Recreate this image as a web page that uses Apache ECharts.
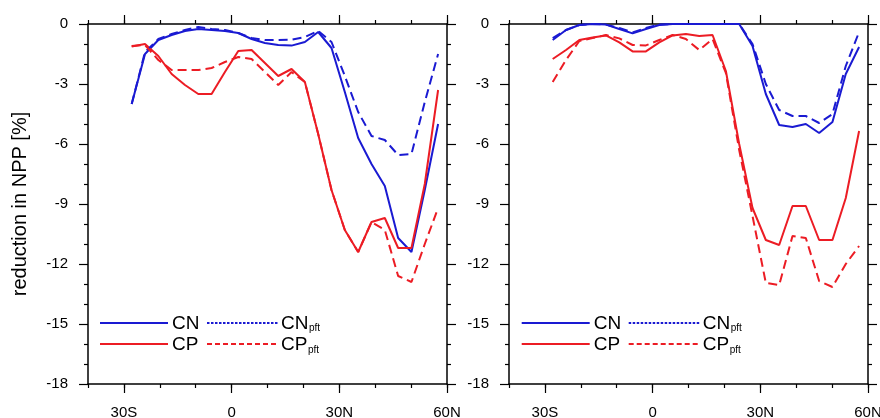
<!DOCTYPE html>
<html>
<head>
<meta charset="utf-8">
<script src="https://cdn.jsdelivr.net/npm/echarts@6/dist/echarts.min.js"></script>
<style>
  html, body { margin: 0; padding: 0; background: #fff; }
  #chart { width: 880px; height: 418px; }
</style>
</head>
<body>
<div id="chart"></div>
<script>
// Zonal-mean reduction in NPP (%) by latitude, two experiments side by side
const lat = [-27.83, -24.12, -20.41, -16.70, -12.99, -9.28, -5.57, -1.86,
             1.86, 5.57, 9.28, 12.99, 16.70, 20.41, 24.12, 27.83,
             31.54, 35.26, 38.97, 42.68, 46.39, 50.10, 53.81, 57.52];

// Left panel
const leftCN    = [-4.0, -1.5, -0.8, -0.55, -0.35, -0.25, -0.3, -0.35, -0.45, -0.75, -0.95, -1.05,
                   -1.08, -0.9, -0.4, -1.2, -3.4, -5.7, -7.0, -8.1, -10.7, -11.4, -8.3, -5.0];
const leftCNpft = [-4.0, -1.4, -0.75, -0.5, -0.3, -0.15, -0.25, -0.3, -0.45, -0.7, -0.8, -0.8,
                   -0.78, -0.65, -0.35, -0.9, -2.6, -4.4, -5.6, -5.8, -6.55, -6.5, -3.9, -1.5];
const leftCP    = [-1.13, -1.0, -1.6, -2.5, -3.05, -3.5, -3.5, -2.4, -1.35, -1.3, -1.95, -2.6,
                   -2.25, -2.9, -5.5, -8.3, -10.3, -11.4, -9.9, -9.7, -11.2, -11.2, -8.0, -3.3];
const leftCPpft = [-1.1, -1.05, -1.8, -2.3, -2.3, -2.3, -2.2, -1.9, -1.65, -1.75, -2.4, -3.05,
                   -2.4, -2.9, -5.5, -8.3, -10.3, -11.4, -9.9, -10.3, -12.6, -12.9, -11.0, -9.2];

// Right panel
const rightCN    = [-0.8, -0.3, -0.05, 0, -0.03, -0.25, -0.47, -0.25, -0.05, 0, 0, 0,
                    0, 0, 0, -1.1, -3.5, -5.05, -5.15, -5.0, -5.45, -4.9, -2.5, -1.15];
const rightCNpft = [-0.7, -0.3, -0.05, 0, -0.03, -0.2, -0.42, -0.2, -0.03, 0, 0, 0,
                    0, 0, 0, -1.0, -3.0, -4.3, -4.6, -4.6, -4.95, -4.5, -2.1, -0.4];
const rightCP    = [-1.75, -1.3, -0.8, -0.68, -0.57, -0.92, -1.37, -1.37, -0.92, -0.57, -0.5, -0.6,
                    -0.55, -2.35, -6.0, -9.2, -10.8, -11.05, -9.1, -9.1, -10.8, -10.8, -8.7, -5.35];
const rightCPpft = [-2.9, -1.8, -0.85, -0.7, -0.55, -0.72, -1.05, -1.07, -0.8, -0.55, -0.75, -1.3,
                    -0.75, -2.45, -6.3, -9.6, -12.95, -13.05, -10.6, -10.7, -12.85, -13.15, -12.0, -11.1];

// Axis tick labels
const lonTicks  = [-30, 0, 30, 60];
const lonLabels = ['30S', '0', '30N', '60N'];

const BLUE = '#1a1ad2';
const RED = '#ec1c24';
const FONT = 'Liberation Sans, Arial, Helvetica, sans-serif';

const chart = echarts.init(document.getElementById('chart'));

const lonFmt = v => {
  const i = lonTicks.indexOf(v);
  return i >= 0 ? lonLabels[i] : '';
};

const axisLineStyle = { color: '#000', width: 1.5 };
const tickLineStyle = { color: '#000', width: 1.2 };

function xAxesFor(g) {
  const base = { gridIndex: g, type: 'value', min: -40, max: 60, interval: 10,
                 splitLine: { show: false } };
  return [
    Object.assign({}, base, {
      position: 'bottom',
      axisLine: { show: true, onZero: false, lineStyle: axisLineStyle },
      axisTick: { show: true, length: 4, lineStyle: tickLineStyle },
      axisLabel: { show: true, customValues: lonTicks, formatter: lonFmt, margin: 21,
                   fontSize: 15, color: '#000', fontFamily: FONT }
    }),
    Object.assign({}, base, {
      position: 'bottom',
      axisLine: { show: false, onZero: false },
      axisTick: { show: true, customValues: lonTicks, length: 9, lineStyle: tickLineStyle },
      axisLabel: { show: false }
    }),
    Object.assign({}, base, {
      position: 'top',
      axisLine: { show: true, onZero: false, lineStyle: axisLineStyle },
      axisTick: { show: true, length: 4, lineStyle: tickLineStyle },
      axisLabel: { show: false }
    }),
    Object.assign({}, base, {
      position: 'top',
      axisLine: { show: false, onZero: false },
      axisTick: { show: true, customValues: lonTicks, length: 9, lineStyle: tickLineStyle },
      axisLabel: { show: false }
    })
  ];
}

function yAxesFor(g, withName) {
  const base = { gridIndex: g, type: 'value', min: -18, max: 0, interval: 3,
                 splitLine: { show: false },
                 axisLine: { show: true, onZero: false, lineStyle: axisLineStyle },
                 axisTick: { show: true, length: 9, lineStyle: tickLineStyle },
                 minorTick: { show: true, splitNumber: 3, length: 4, lineStyle: tickLineStyle } };
  const left = Object.assign({}, base, {
    position: 'left',
    axisLabel: { show: true, margin: 20, fontSize: 15, color: '#000', fontFamily: FONT }
  });
  if (withName) {
    Object.assign(left, {
      name: 'reduction in NPP [%]',
      nameLocation: 'middle',
      nameRotate: 90,
      nameGap: 58,
      nameTextStyle: { fontSize: 20, color: '#000', fontFamily: FONT }
    });
  }
  const right = Object.assign({}, base, { position: 'right', axisLabel: { show: false } });
  return [left, right];
}

const pts = arr => lat.map((x, i) => [x, arr[i]]);

function seriesFor(g, cn, cnPft, cp, cpPft) {
  const common = { type: 'line', xAxisIndex: g * 4, yAxisIndex: g * 2, showSymbol: false,
                   symbol: 'none', animation: false, silent: true, clip: false };
  return [
    Object.assign({}, common, { name: 'CN', data: pts(cn),
      lineStyle: { color: BLUE, width: 2 } }),
    Object.assign({}, common, { name: 'CP', data: pts(cp),
      lineStyle: { color: RED, width: 2 } }),
    Object.assign({}, common, { name: 'CNpft', data: pts(cnPft),
      lineStyle: { color: BLUE, width: 2, type: [9, 5] } }),
    Object.assign({}, common, { name: 'CPpft', data: pts(cpPft),
      lineStyle: { color: RED, width: 2, type: [9, 5] } })
  ];
}

// Legend block drawn inside each panel
function legendFor(x0) {
  const y1 = 323, y2 = 344;
  const seg = (xa, xb, y, color, dash) => ({
    type: 'line',
    shape: { x1: x0 + xa, y1: y, x2: x0 + xb, y2: y },
    style: { stroke: color, lineWidth: 2, lineDash: dash || null }
  });
  const txt = (xa, y, s, size) => ({
    type: 'text', x: x0 + xa, y: y,
    style: { text: s, fontSize: size, fontFamily: FONT, fill: '#000',
             align: 'left', verticalAlign: 'middle' }
  });
  return [
    seg(0, 68, y1, BLUE), txt(72, y1 + 1, 'CN', 19),
    seg(107, 178, y1, BLUE, [2.5, 1.5]), txt(181, y1 + 1, 'CN', 19), txt(209, y1 + 5, 'pft', 10),
    seg(0, 68, y2, RED), txt(72, y2 + 1, 'CP', 19),
    seg(107, 178, y2, RED, [5, 3]), txt(181, y2 + 1, 'CP', 19), txt(208, y2 + 6, 'pft', 10)
  ];
}

chart.setOption({
  backgroundColor: '#fff',
  animation: false,
  grid: [
    { left: 88, top: 24, width: 359, height: 360, containLabel: false, outerBoundsMode: 'none' },
    { left: 509, top: 24, width: 359, height: 360, containLabel: false, outerBoundsMode: 'none' }
  ],
  xAxis: xAxesFor(0).concat(xAxesFor(1)),
  yAxis: yAxesFor(0, true).concat(yAxesFor(1, false)),
  series: seriesFor(0, leftCN, leftCNpft, leftCP, leftCPpft)
    .concat(seriesFor(1, rightCN, rightCNpft, rightCP, rightCPpft)),
  graphic: legendFor(100).concat(legendFor(521.7))
});
</script>
</body>
</html>
